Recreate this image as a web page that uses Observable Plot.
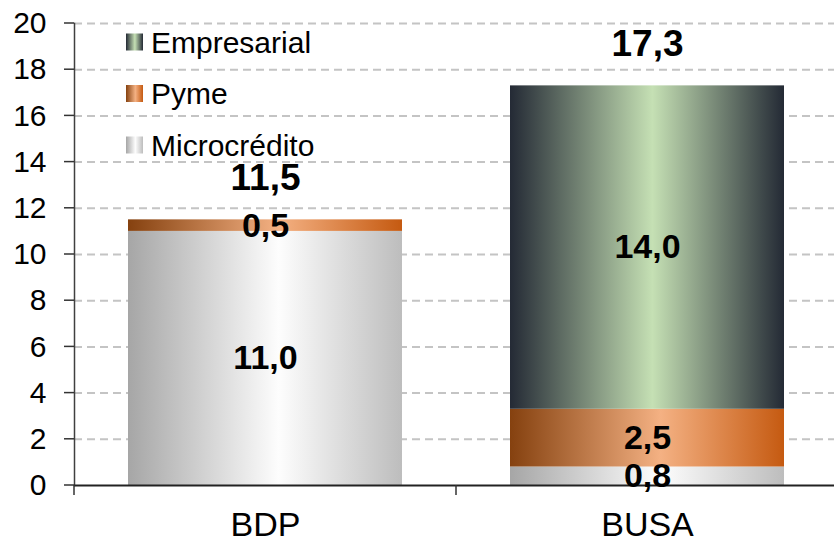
<!DOCTYPE html>
<html><head><meta charset="utf-8">
<script src="https://cdn.jsdelivr.net/npm/d3@7"></script>
<script src="https://cdn.jsdelivr.net/npm/@observablehq/plot@0.6"></script>
<style>body{margin:0;background:#fff}</style>
</head><body><div id="chart"></div>
<script>
// ---- data ----
const categories = ["BDP", "BUSA"];
const series = ["Microcrédito", "Pyme", "Empresarial"];
const microcredito = [11.0, 0.8];
const pyme = [0.5, 2.5];
const empresarial = [0, 14.0];
const totals = [11.5, 17.3];
const yTicks = [0, 2, 4, 6, 8, 10, 12, 14, 16, 18, 20];
const legendOrder = ["Empresarial", "Pyme", "Microcrédito"];

// ---- styles ----
const gradientStops = {
  "Microcrédito": [["0%", "#a6a6a6"], ["55%", "#fdfdfd"], ["100%", "#bdbdbd"]],
  "Pyme": [["0%", "#85410f"], ["55%", "#f4b183"], ["100%", "#c55a11"]],
  "Empresarial": [["0%", "#242a35"], ["52%", "#c5e0b4"], ["100%", "#242a35"]]
};
const gid = {"Microcrédito": "gMicro", "Pyme": "gPyme", "Empresarial": "gEmp"};
const font = "'Liberation Sans', Arial, sans-serif";

const valuesBySeries = {"Microcrédito": microcredito, "Pyme": pyme, "Empresarial": empresarial};
const rows = [];
categories.forEach((c, i) => series.forEach(s => rows.push({category: c, series: s, value: valuesBySeries[s][i]})));
const fmt = v => d3.format(".1f")(v).replace(".", ",");

function defsMark() {
  const defs = d3.create("svg:defs");
  series.forEach(s => {
    const lg = defs.append("linearGradient").attr("id", gid[s]).attr("x1", "0").attr("x2", "1").attr("y1", "0").attr("y2", "0");
    gradientStops[s].forEach(([o, c]) => lg.append("stop").attr("offset", o).attr("stop-color", c));
  });
  return defs.node();
}

function legendMark() {
  const g = d3.create("svg:g").attr("font-size", 30).attr("font-family", font).attr("text-anchor", "start");
  legendOrder.forEach((s, i) => {
    const cy = 42 + i * 51.5;
    g.append("rect").attr("x", 126).attr("y", cy - 8.5).attr("width", 17).attr("height", 17).attr("fill", `url(#${gid[s]})`);
    g.append("text").attr("x", 151).attr("y", cy).attr("dy", "0.35em").attr("fill", "#000").text(s);
  });
  return g.node();
}

// short tick marks: y ticks to the left of the axis, band boundary ticks below the x axis
function axisTicks(index, scales, values, dimensions) {
  const g = d3.create("svg:g").attr("stroke", "#333").attr("stroke-width", 1.5);
  const x0 = dimensions.marginLeft;
  yTicks.forEach(t => {
    const y = scales.y(t);
    g.append("line").attr("x1", x0 - 10).attr("x2", x0).attr("y1", y).attr("y2", y);
  });
  const y0 = scales.y(0);
  categories.forEach(c => {
    const x = scales.x(c);
    g.append("line").attr("x1", x).attr("x2", x).attr("y1", y0).attr("y2", y0 + 10);
  });
  return g.node();
}

const chart = Plot.plot({
  width: 834,
  height: 543,
  marginTop: 23,
  marginBottom: 58,
  marginLeft: 74,
  marginRight: 0,
  style: {fontFamily: font, background: "#fff", color: "#000"},
  x: {domain: categories, range: [74, 838], padding: 0, label: null, axis: null},
  y: {domain: [0, 20], label: null, axis: null},
  color: {domain: series, range: series.map(s => `url(#${gid[s]})`)},
  marks: [
    defsMark,
    Plot.ruleY(yTicks.filter(d => d > 0), {stroke: "#c4c4c4", strokeWidth: 2, strokeDasharray: "8,5"}),
    Plot.barY(rows.filter(d => d.value > 0), {x: "category", y: "value", fill: "series", order: series, insetLeft: 54, insetRight: 54}),
    Plot.frame({anchor: "left", stroke: "#404040", strokeWidth: 1.5}),
    Plot.text(yTicks, {y: d => d, text: d => String(d), frameAnchor: "left", textAnchor: "end", dx: -28, fontSize: 30, fill: "#000"}),
    Plot.text(categories, {x: d => d, text: d => d, frameAnchor: "bottom", lineAnchor: "top", dy: 26, fontSize: 34, fill: "#000"}),
    Plot.ruleY([0], {stroke: "#222", strokeWidth: 2}),
    axisTicks,
    Plot.text(rows.filter(d => d.value > 0), Plot.stackY({x: "category", y: "value", z: "series", order: series, text: d => fmt(d.value), fontSize: 34, fontWeight: "bold", fill: "#000"})),
    Plot.text(categories, {x: d => d, y: (d, i) => totals[i], text: (d, i) => fmt(totals[i]), dy: -42, fontSize: 37, fontWeight: "bold", fill: "#000"}),
    legendMark
  ]
});
document.getElementById("chart").appendChild(chart);
</script>
</body></html>
